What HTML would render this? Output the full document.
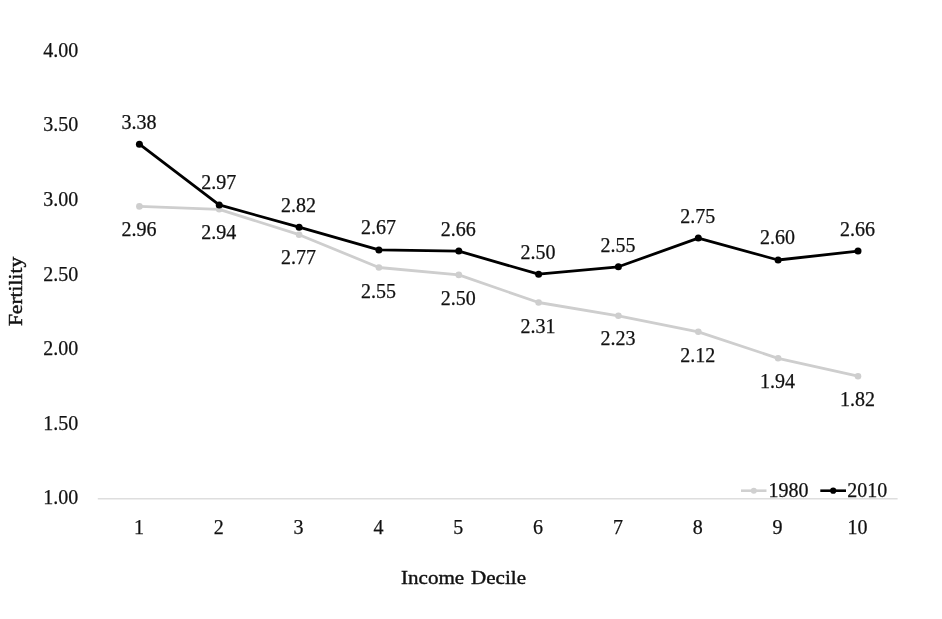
<!DOCTYPE html>
<html><head><meta charset="utf-8"><title>Fertility by Income Decile</title>
<style>
html,body{margin:0;padding:0;background:#fff;}
body{width:942px;height:619px;overflow:hidden;}
svg{display:block;}
text{font-family:"Liberation Serif",serif;font-size:20px;fill:#111;stroke:#111;stroke-width:0.25px;}
</style></head><body>
<svg width="942" height="619" viewBox="0 0 942 619">
<rect width="942" height="619" fill="#ffffff"/>

<line x1="97.8" y1="498.75" x2="897.6" y2="498.75" stroke="#dedede" stroke-width="1.6"/>
<text transform="translate(78.2,504.2) scale(1.000,1)" text-anchor="end">1.00</text>
<text transform="translate(78.2,429.7) scale(1.000,1)" text-anchor="end">1.50</text>
<text transform="translate(78.2,355.2) scale(1.000,1)" text-anchor="end">2.00</text>
<text transform="translate(78.2,280.7) scale(1.000,1)" text-anchor="end">2.50</text>
<text transform="translate(78.2,206.2) scale(1.000,1)" text-anchor="end">3.00</text>
<text transform="translate(78.2,130.8) scale(1.000,1)" text-anchor="end">3.50</text>
<text transform="translate(78.2,56.7) scale(1.000,1)" text-anchor="end">4.00</text>
<text transform="translate(138.9,533.8) scale(1.000,1)" text-anchor="middle">1</text>
<text transform="translate(218.7,533.8) scale(1.000,1)" text-anchor="middle">2</text>
<text transform="translate(298.6,533.8) scale(1.000,1)" text-anchor="middle">3</text>
<text transform="translate(378.4,533.8) scale(1.000,1)" text-anchor="middle">4</text>
<text transform="translate(458.3,533.8) scale(1.000,1)" text-anchor="middle">5</text>
<text transform="translate(538.1,533.8) scale(1.000,1)" text-anchor="middle">6</text>
<text transform="translate(617.9,533.8) scale(1.000,1)" text-anchor="middle">7</text>
<text transform="translate(697.8,533.8) scale(1.000,1)" text-anchor="middle">8</text>
<text transform="translate(777.6,533.8) scale(1.000,1)" text-anchor="middle">9</text>
<text transform="translate(857.5,533.8) scale(1.000,1)" text-anchor="middle">10</text>
<polyline points="139.4,206.4 219.2,209.3 299.1,234.7 378.9,267.5 458.8,274.9 538.6,302.5 618.4,315.8 698.3,331.8 778.1,358.3 858.0,376.2" fill="none" stroke="#cecece" stroke-width="2.8" stroke-linejoin="round" stroke-linecap="round"/>
<circle cx="139.4" cy="206.4" r="3.3" fill="#cecece"/>
<circle cx="219.2" cy="209.3" r="3.3" fill="#cecece"/>
<circle cx="299.1" cy="234.7" r="3.3" fill="#cecece"/>
<circle cx="378.9" cy="267.5" r="3.3" fill="#cecece"/>
<circle cx="458.8" cy="274.9" r="3.3" fill="#cecece"/>
<circle cx="538.6" cy="302.5" r="3.3" fill="#cecece"/>
<circle cx="618.4" cy="315.8" r="3.3" fill="#cecece"/>
<circle cx="698.3" cy="331.8" r="3.3" fill="#cecece"/>
<circle cx="778.1" cy="358.3" r="3.3" fill="#cecece"/>
<circle cx="858.0" cy="376.2" r="3.3" fill="#cecece"/>
<polyline points="139.4,144.2 219.2,204.9 299.1,227.2 378.9,249.9 458.8,251.1 538.6,274.2 618.4,266.8 698.3,238.1 778.1,260.0 858.0,251.1" fill="none" stroke="#000000" stroke-width="2.8" stroke-linejoin="round" stroke-linecap="round"/>
<circle cx="139.4" cy="144.2" r="3.5" fill="#000000"/>
<circle cx="219.2" cy="204.9" r="3.5" fill="#000000"/>
<circle cx="299.1" cy="227.2" r="3.5" fill="#000000"/>
<circle cx="378.9" cy="249.9" r="3.5" fill="#000000"/>
<circle cx="458.8" cy="251.1" r="3.5" fill="#000000"/>
<circle cx="538.6" cy="274.2" r="3.5" fill="#000000"/>
<circle cx="618.4" cy="266.8" r="3.5" fill="#000000"/>
<circle cx="698.3" cy="238.1" r="3.5" fill="#000000"/>
<circle cx="778.1" cy="260.0" r="3.5" fill="#000000"/>
<circle cx="858.0" cy="251.1" r="3.5" fill="#000000"/>
<text transform="translate(138.9,236.3) scale(1.000,1)" text-anchor="middle">2.96</text>
<text transform="translate(218.7,239.0) scale(1.000,1)" text-anchor="middle">2.94</text>
<text transform="translate(298.6,264.4) scale(1.000,1)" text-anchor="middle">2.77</text>
<text transform="translate(378.4,298.2) scale(1.000,1)" text-anchor="middle">2.55</text>
<text transform="translate(458.3,304.6) scale(1.000,1)" text-anchor="middle">2.50</text>
<text transform="translate(538.1,332.9) scale(1.000,1)" text-anchor="middle">2.31</text>
<text transform="translate(617.9,345.4) scale(1.000,1)" text-anchor="middle">2.23</text>
<text transform="translate(697.8,361.6) scale(1.000,1)" text-anchor="middle">2.12</text>
<text transform="translate(777.6,388.0) scale(1.000,1)" text-anchor="middle">1.94</text>
<text transform="translate(857.5,405.9) scale(1.000,1)" text-anchor="middle">1.82</text>
<text transform="translate(138.9,128.9) scale(1.000,1)" text-anchor="middle">3.38</text>
<text transform="translate(218.7,189.4) scale(1.000,1)" text-anchor="middle">2.97</text>
<text transform="translate(298.6,211.7) scale(1.000,1)" text-anchor="middle">2.82</text>
<text transform="translate(378.4,234.1) scale(1.000,1)" text-anchor="middle">2.67</text>
<text transform="translate(458.3,235.6) scale(1.000,1)" text-anchor="middle">2.66</text>
<text transform="translate(538.1,259.4) scale(1.000,1)" text-anchor="middle">2.50</text>
<text transform="translate(617.9,252.0) scale(1.000,1)" text-anchor="middle">2.55</text>
<text transform="translate(697.8,222.6) scale(1.000,1)" text-anchor="middle">2.75</text>
<text transform="translate(777.6,244.0) scale(1.000,1)" text-anchor="middle">2.60</text>
<text transform="translate(857.5,235.8) scale(1.000,1)" text-anchor="middle">2.66</text>
<line x1="741" y1="490.7" x2="766.5" y2="490.7" stroke="#d0d0d0" stroke-width="2.6"/><circle cx="753.8" cy="490.7" r="3" fill="#d0d0d0"/>
<text transform="translate(768.6,497.0) scale(1.000,1)" text-anchor="start">1980</text>
<line x1="820.3" y1="490.7" x2="846" y2="490.7" stroke="#000" stroke-width="2.6"/><circle cx="833.2" cy="490.7" r="3.1" fill="#000"/>
<text transform="translate(847.2,497.0) scale(1.000,1)" text-anchor="start">2010</text>
<text x="401" y="583.8" textLength="125" lengthAdjust="spacingAndGlyphs" style="font-size:19.8px;word-spacing:1.5px;stroke-width:0.4px">Income Decile</text>
<text transform="translate(22,326.1) rotate(-90)" textLength="69.3" lengthAdjust="spacingAndGlyphs" style="font-size:19.8px;stroke-width:0.45px">Fertility</text>
</svg></body></html>
